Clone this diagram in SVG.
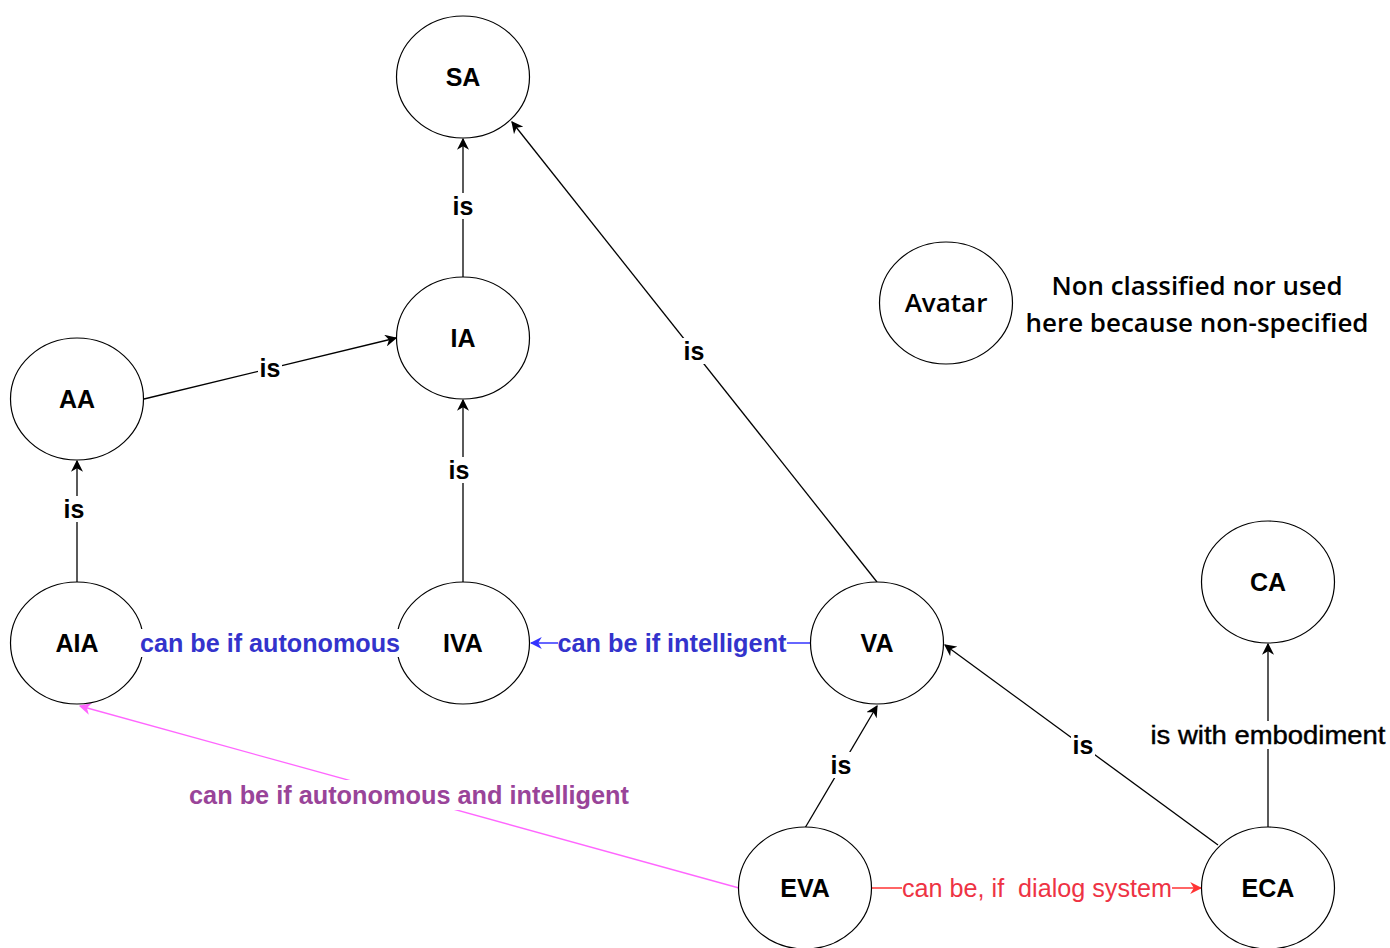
<svg xmlns="http://www.w3.org/2000/svg" width="1390" height="948" viewBox="0 0 1390 948">
<defs>
<style>
.node ellipse{fill:#fff;stroke:#000;stroke-width:1.2}
.nt{font-family:"Liberation Sans",Arial,sans-serif;font-weight:bold;font-size:25px;text-anchor:middle;dominant-baseline:central;fill:#000}
.e{fill:none;stroke:#000;stroke-width:1.3}
.lbl{font-family:"Liberation Sans",Arial,sans-serif;font-weight:bold;font-size:25px;text-anchor:middle;dominant-baseline:central;fill:#000}
.note{font-family:"Open Sans","Noto Sans",sans-serif;font-weight:600;font-size:26px;text-anchor:middle;fill:#000}
</style>
<marker id="ak" viewBox="0 0 10 10" refX="9" refY="5" markerWidth="12" markerHeight="12" markerUnits="userSpaceOnUse" orient="auto"><path d="M0,0 L10,5 L0,10 L3,5 Z" fill="#000"/></marker>
<marker id="ab" viewBox="0 0 10 10" refX="9" refY="5" markerWidth="12" markerHeight="12" markerUnits="userSpaceOnUse" orient="auto"><path d="M0,0 L10,5 L0,10 L3,5 Z" fill="#3333ff"/></marker>
<marker id="ar" viewBox="0 0 10 10" refX="9" refY="5" markerWidth="12" markerHeight="12" markerUnits="userSpaceOnUse" orient="auto"><path d="M0,0 L10,5 L0,10 L3,5 Z" fill="#ff3333"/></marker>
<marker id="ap" viewBox="0 0 10 10" refX="9" refY="5" markerWidth="12" markerHeight="12" markerUnits="userSpaceOnUse" orient="auto"><path d="M0,0 L10,5 L0,10 L3,5 Z" fill="#ff66ff"/></marker>
</defs>
<rect width="1390" height="948" fill="#fff"/>
<g id="connectors">
<line class="e" x1="463" y1="277" x2="463" y2="139" marker-end="url(#ak)"/>
<line class="e" x1="877" y1="582" x2="512" y2="122" marker-end="url(#ak)"/>
<line class="e" x1="144" y1="399" x2="396" y2="338" marker-end="url(#ak)"/>
<line class="e" x1="463" y1="582" x2="463" y2="400" marker-end="url(#ak)"/>
<line class="e" x1="77" y1="582" x2="77" y2="461" marker-end="url(#ak)"/>
<line class="e" x1="805" y1="828" x2="877" y2="706" marker-end="url(#ak)"/>
<line class="e" x1="1218" y1="845" x2="945" y2="645" marker-end="url(#ak)"/>
<line class="e" x1="1268" y1="828" x2="1268" y2="644" marker-end="url(#ak)"/>
<line x1="811" y1="643" x2="531" y2="643" stroke="#3333ff" stroke-width="1.3" marker-end="url(#ab)"/>
<line x1="871" y1="888" x2="1201" y2="888" stroke="#ff3333" stroke-width="1.3" marker-end="url(#ar)"/>
<line x1="739" y1="888" x2="80" y2="706" stroke="#ff66ff" stroke-width="1.3" marker-end="url(#ap)"/>
</g>
<g id="nodes">
<g id="SA" class="node"><ellipse cx="463" cy="77" rx="66.5" ry="61"/><text class="nt" x="463" y="77">SA</text></g>
<g id="IA" class="node"><ellipse cx="463" cy="338" rx="66.5" ry="61"/><text class="nt" x="463" y="338">IA</text></g>
<g id="AA" class="node"><ellipse cx="77" cy="399" rx="66.5" ry="61"/><text class="nt" x="77" y="399">AA</text></g>
<g id="AIA" class="node"><ellipse cx="77" cy="643" rx="66.5" ry="61"/><text class="nt" x="77" y="643">AIA</text></g>
<g id="IVA" class="node"><ellipse cx="463" cy="643" rx="66.5" ry="61"/><text class="nt" x="463" y="643">IVA</text></g>
<g id="VA" class="node"><ellipse cx="877" cy="643" rx="66.5" ry="61"/><text class="nt" x="877" y="643">VA</text></g>
<g id="Avatar" class="node"><ellipse cx="946" cy="303" rx="66.5" ry="61"/><text class="note" x="946" y="312" font-size="24">Avatar</text></g>
<g id="CA" class="node"><ellipse cx="1268" cy="582" rx="66.5" ry="61"/><text class="nt" x="1268" y="582">CA</text></g>
<g id="EVA" class="node"><ellipse cx="805" cy="888" rx="66.5" ry="61"/><text class="nt" x="805" y="888">EVA</text></g>
<g id="ECA" class="node"><ellipse cx="1268" cy="888" rx="66.5" ry="61"/><text class="nt" x="1268" y="888">ECA</text></g>
<g id="note"><text class="note" x="1197" y="295" textLength="291" lengthAdjust="spacingAndGlyphs">Non classified nor used</text><text class="note" x="1197" y="332" textLength="343" lengthAdjust="spacingAndGlyphs">here because non-specified</text></g>
</g>
<g id="labels">
<rect x="451" y="193" width="24" height="26" fill="#fff"/><text class="lbl" x="463" y="206">is</text>
<rect x="682" y="338" width="24" height="26" fill="#fff"/><text class="lbl" x="694" y="351">is</text>
<rect x="258" y="355" width="24" height="26" fill="#fff"/><text class="lbl" x="270" y="368">is</text>
<rect x="447" y="457" width="24" height="26" fill="#fff"/><text class="lbl" x="459" y="470">is</text>
<rect x="62" y="496" width="24" height="26" fill="#fff"/><text class="lbl" x="74" y="509">is</text>
<rect x="829" y="752" width="24" height="26" fill="#fff"/><text class="lbl" x="841" y="765">is</text>
<rect x="1071" y="732" width="24" height="26" fill="#fff"/><text class="lbl" x="1083" y="745">is</text>
<rect x="1151" y="721" width="235" height="28" fill="#fff"/><text class="lbl" x="1268" y="735" style="font-weight:normal" textLength="235" lengthAdjust="spacingAndGlyphs" stroke="#000" stroke-width="0.4">is with embodiment</text>
<rect x="140" y="629" width="260" height="28" fill="#fff"/><text class="lbl" x="270" y="643" style="fill:#3333cc" textLength="260" lengthAdjust="spacingAndGlyphs">can be if autonomous</text>
<rect x="558" y="629" width="229" height="28" fill="#fff"/><text class="lbl" x="672" y="643" style="fill:#3333cc" textLength="229" lengthAdjust="spacingAndGlyphs">can be if intelligent</text>
<rect x="902" y="874" width="270" height="28" fill="#fff"/><text class="lbl" x="1037" y="888" style="fill:#ee3344;font-weight:normal" textLength="270" lengthAdjust="spacingAndGlyphs">can be, if&#160; dialog system</text>
<rect x="189" y="780" width="440" height="30" fill="#fff"/><text class="lbl" x="409" y="795" style="fill:#994499" textLength="440" lengthAdjust="spacingAndGlyphs">can be if autonomous and intelligent</text>
</g>
</svg>
